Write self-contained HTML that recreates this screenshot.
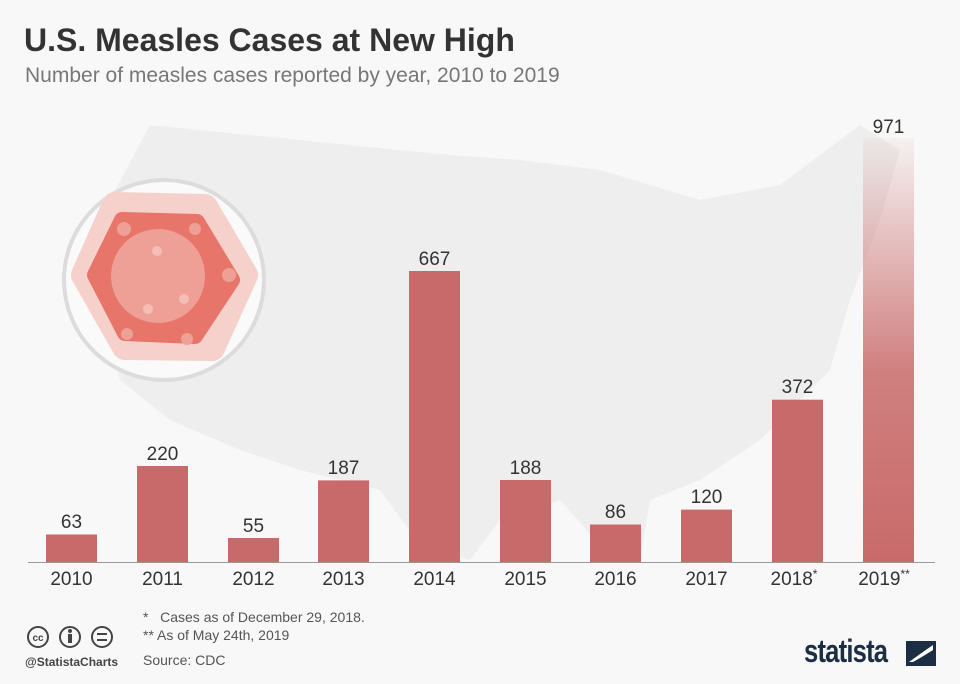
<!DOCTYPE html>
<html><head><meta charset="utf-8"><style>
body{margin:0;width:960px;height:684px;background:#f8f8f8;font-family:"Liberation Sans",sans-serif;overflow:hidden;position:relative}
.t{position:absolute;white-space:nowrap}
</style></head><body>
<svg width="960" height="684" style="position:absolute;left:0;top:0">
<defs><linearGradient id="g" x1="0" y1="0" x2="0" y2="1">
<stop offset="0" stop-color="#c96a6a" stop-opacity="0.05"/><stop offset="0.55" stop-color="#c96a6a" stop-opacity="0.85"/><stop offset="1" stop-color="#c96a6a"/></linearGradient></defs>
<path d="M150,125 L300,140 L450,155 L520,160 L600,170 L700,200 L780,185 L860,125 L900,150 L880,220 L850,300 L830,370 L760,440 L700,480 L650,500 L640,560 L600,545 L560,500 L500,520 L470,560 L420,545 L380,490 L300,470 L240,450 L170,420 L120,380 L100,300 L110,200 Z" fill="#eeeeee"/>
<circle cx="164" cy="280" r="100" fill="#fafafa" stroke="#dcdcdc" stroke-width="4"/>
<path d="M115,205 L205,207 L245,275 L212,348 L125,347 L84,275 Z" fill="#f6d0cb" stroke="#f6d0cb" stroke-width="26" stroke-linejoin="round"/>
<path d="M122,220 L197,222 L232,280 L195,336 L125,333 L95,275 Z" fill="#e8756a" stroke="#e8756a" stroke-width="16" stroke-linejoin="round"/>
<circle cx="158" cy="276" r="47" fill="#efa096"/>
<g fill="#f5bdb5"><circle cx="157" cy="251" r="5"/><circle cx="184" cy="299" r="5"/><circle cx="148" cy="309" r="5"/></g>
<g fill="#efa096"><circle cx="124" cy="229" r="7"/><circle cx="195" cy="229" r="6"/><circle cx="229" cy="275" r="7"/><circle cx="127" cy="334" r="6"/><circle cx="187" cy="339" r="6"/></g>
<g fill="#c96a6a">
<rect x="46" y="534.5" width="51" height="27.5"/>
<rect x="137" y="466" width="51" height="96"/>
<rect x="228" y="538" width="51" height="24"/>
<rect x="318" y="480.4" width="51" height="81.6"/>
<rect x="409" y="271" width="51" height="291"/>
<rect x="500" y="480" width="51" height="82"/>
<rect x="590" y="524.5" width="51" height="37.5"/>
<rect x="681" y="509.6" width="51" height="52.4"/>
<rect x="772" y="399.7" width="51" height="162.3"/>
</g>
<rect x="863" y="138" width="51" height="424" fill="url(#g)"/>
<line x1="28" y1="562.5" x2="935" y2="562.5" stroke="#999" stroke-width="1"/>
<g font-size="19" fill="#333" text-anchor="middle" font-family="Liberation Sans,sans-serif">
<text x="71.5" y="528">63</text><text x="162.5" y="460">220</text><text x="253.5" y="532">55</text><text x="343.5" y="474">187</text><text x="434.5" y="265">667</text><text x="525.5" y="474">188</text><text x="615.5" y="518">86</text><text x="706.5" y="503">120</text><text x="797.5" y="393">372</text><text x="888.5" y="133">971</text>
<text x="71.5" y="585">2010</text><text x="162.5" y="585">2011</text><text x="253.5" y="585">2012</text><text x="343.5" y="585">2013</text><text x="434.5" y="585">2014</text><text x="525.5" y="585">2015</text><text x="615.5" y="585">2016</text><text x="706.5" y="585">2017</text><text x="794" y="585">2018<tspan font-size="12" dy="-7">*</tspan></text><text x="884" y="585">2019<tspan font-size="12" dy="-7">**</tspan></text>
</g>
<g fill="none" stroke="#444" stroke-width="2"><circle cx="38" cy="637" r="10"/><circle cx="70" cy="637" r="10"/><circle cx="102" cy="637" r="10"/></g>
<text x="38" y="641" font-size="10" font-weight="bold" fill="#444" text-anchor="middle">cc</text>
<circle cx="70" cy="631" r="2" fill="#444"/><rect x="68" y="634" width="4" height="9" fill="#444"/>
<rect x="97" y="633" width="10" height="2" fill="#444"/><rect x="97" y="639" width="10" height="2" fill="#444"/>
<rect x="906" y="641" width="30" height="25" fill="#1b2e44"/>
<path d="M909,662 Q920,654 933,645 L933,650 Q922,657 913,662 Z" fill="#fff"/>
</svg>
<div class="t" style="left:24px;top:22px;font-size:32px;font-weight:bold;color:#333">U.S. Measles Cases at New High</div>
<div class="t" style="left:25px;top:64px;font-size:21px;color:#777">Number of measles cases reported by year, 2010 to 2019</div>
<div class="t" style="left:143px;top:609px;font-size:14px;color:#555">*&nbsp;&nbsp; Cases as of December 29, 2018.</div>
<div class="t" style="left:143px;top:627px;font-size:14px;color:#555">** As of May 24th, 2019</div>
<div class="t" style="left:143px;top:652px;font-size:14px;color:#555">Source: CDC</div>
<div class="t" style="left:25px;top:655px;font-size:12px;font-weight:bold;color:#444">@StatistaCharts</div>
<div class="t" style="left:804px;top:633px;font-size:32px;font-weight:bold;color:#1b2e44;letter-spacing:-1px;transform:scaleX(0.8);transform-origin:left">statista</div>
</body></html>
